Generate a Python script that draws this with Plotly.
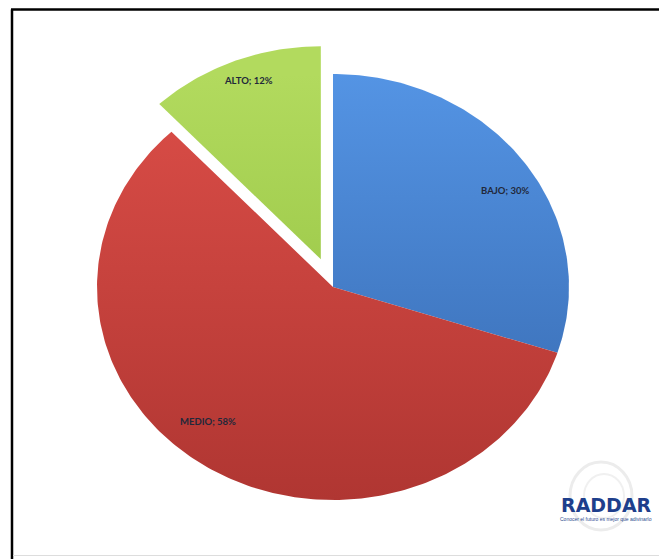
import numpy as np
import plotly.graph_objects as go

categories = ["BAJO", "MEDIO", "ALTO"]
values = [30, 58, 12]
pulls = [0.0, 0.0, 0.14]
light_colors = ["#5494e4", "#dc4e48", "#b2da5e"]
dark_colors = ["#3567ad", "#b03632", "#8cbc3a"]

W, H = 659, 559
CX, CY = 333, 287      # pie centre (pixels)
RX, RY = 236, 213      # pie radii (pixels)

fig = go.Figure()

total = sum(values)
start = 0.0
for cat, v, p, cl, cd in zip(categories, values, pulls, light_colors, dark_colors):
    a0 = start
    a1 = start + v / total * 2 * np.pi
    mid = (a0 + a1) / 2
    ox, oy = p * np.sin(mid), p * np.cos(mid)
    n = max(int(v * 4), 20)
    t = np.linspace(a0, a1, n)
    xs = np.concatenate([[ox], ox + np.sin(t), [ox]])
    ys = np.concatenate([[oy], oy + np.cos(t), [oy]])
    fig.add_trace(go.Scatter(
        x=xs, y=ys, mode="lines", fill="toself",
        line=dict(width=0, color=cd),
        fillgradient=dict(type="vertical", start=-1.0, stop=1.0,
                          colorscale=[[0, cd], [1, cl]]),
        hoverinfo="skip", showlegend=False, name=cat))
    start = a1

# slice labels (pixel positions)
label_pos = {"BAJO": (505, 190), "MEDIO": (208, 422), "ALTO": (248, 80)}
for cat, v in zip(categories, values):
    px, py = label_pos[cat]
    fig.add_annotation(x=px / W, y=1 - py / H, xref="paper", yref="paper",
                       xanchor="center", yanchor="middle",
                       text=f"<b>{cat}; {v}%</b>", showarrow=False,
                       font=dict(family="Lato", size=9.5, color="#22283a"))

# logo
fig.add_shape(type="circle", xref="paper", yref="paper",
              x0=570 / W, x1=632 / W, y0=1 - 530 / H, y1=1 - 462 / H,
              line=dict(color="#ececec", width=3))
fig.add_shape(type="circle", xref="paper", yref="paper",
              x0=584 / W, x1=624 / W, y0=1 - 518 / H, y1=1 - 474 / H,
              line=dict(color="#f0f0f0", width=2))
fig.add_annotation(x=606 / W, y=1 - 505 / H, xref="paper", yref="paper",
                   xanchor="center", yanchor="middle",
                   text="<b>RADDAR</b>", showarrow=False,
                   font=dict(family="DejaVu Sans", size=19, color="#1e3f8c"))
fig.add_annotation(x=606 / W, y=1 - 519 / H, xref="paper", yref="paper",
                   xanchor="center", yanchor="middle",
                   text="Conocer el futuro es mejor que adivinarlo", showarrow=False,
                   font=dict(family="Liberation Sans", size=5, color="#2b4a8e"))

# frame lines
fig.add_shape(type="line", xref="paper", yref="paper",
              x0=11 / W, x1=1, y0=1 - 9.5 / H, y1=1 - 9.5 / H,
              line=dict(color="black", width=2.5))
fig.add_shape(type="line", xref="paper", yref="paper",
              x0=12 / W, x1=12 / W, y0=1 - 9.5 / H, y1=0,
              line=dict(color="black", width=2.5))
fig.add_shape(type="line", xref="paper", yref="paper",
              x0=13 / W, x1=1, y0=1 - 555.5 / H, y1=1 - 555.5 / H,
              line=dict(color="#dddddd", width=1))

fig.update_layout(
    width=W, height=H,
    margin=dict(l=0, r=0, t=0, b=0, pad=0),
    paper_bgcolor="white", plot_bgcolor="white",
    xaxis=dict(range=[-CX / RX, (W - CX) / RX], visible=False, fixedrange=True),
    yaxis=dict(range=[-(H - CY) / RY, CY / RY], visible=False, fixedrange=True),
    showlegend=False,
)

fig.write_html("out.html")
